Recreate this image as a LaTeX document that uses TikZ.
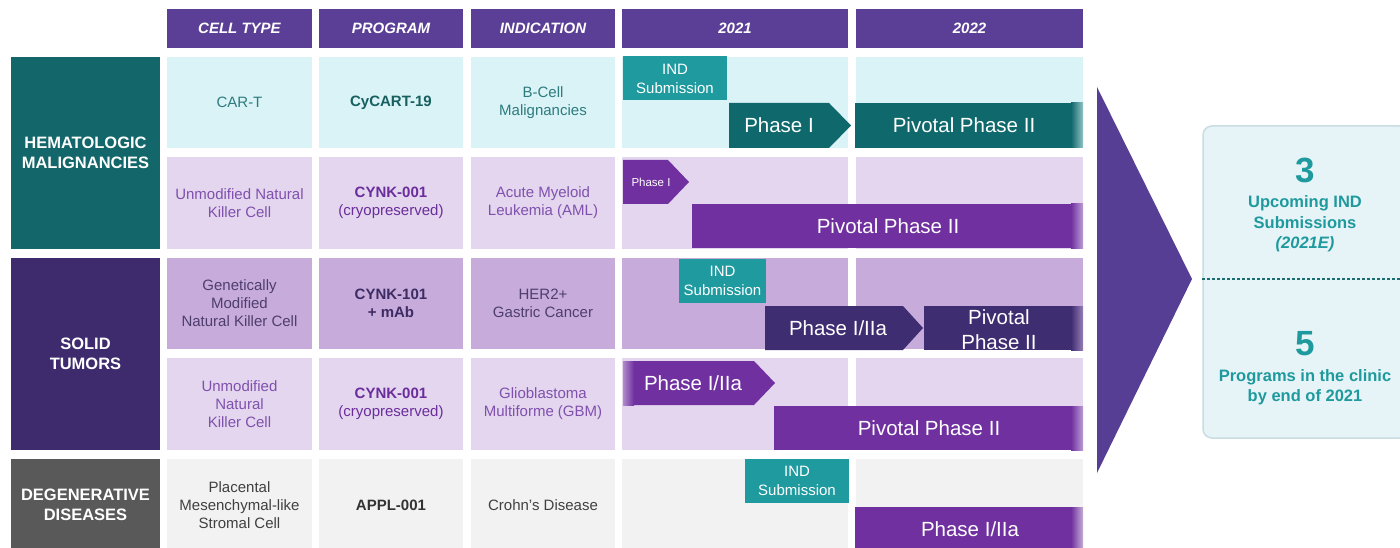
\documentclass[tikz,border=0pt]{standalone}
\usepackage{fontspec}
\setmainfont{Liberation Sans}
\usetikzlibrary{positioning}

\definecolor{hdr}{HTML}{5B3F97}
\definecolor{hemat}{HTML}{13666A}
\definecolor{solid}{HTML}{3D2B6D}
\definecolor{degen}{HTML}{595959}
\definecolor{rowA}{HTML}{D9F3F7}
\definecolor{rowB}{HTML}{E3D6EE}
\definecolor{rowC}{HTML}{C6ABDB}
\definecolor{rowE}{HTML}{F2F2F2}
\definecolor{txtA}{HTML}{2E7B7E}
\definecolor{prgA}{HTML}{17605F}
\definecolor{txtB}{HTML}{8050AE}
\definecolor{prgB}{HTML}{6A2D9B}
\definecolor{txtC}{HTML}{4E3E6E}
\definecolor{prgC}{HTML}{3D2C63}
\definecolor{txtE}{HTML}{404040}
\definecolor{prgE}{HTML}{333333}
\definecolor{ind}{HTML}{1F9BA0}
\definecolor{tealbar}{HTML}{0F686B}
\definecolor{purbar}{HTML}{7030A0}
\definecolor{darkbar}{HTML}{3F2D72}
\definecolor{arrowpur}{HTML}{573E95}
\definecolor{sumfill}{HTML}{E7F4F7}
\definecolor{sumline}{HTML}{C8DCE1}
\definecolor{sumtext}{HTML}{1E9A9E}
\definecolor{sumdash}{HTML}{1C6D70}

\tikzset{
  head/.style={fill=hdr, text=white, font=\bfseries\itshape\fontsize{15}{18}\selectfont,
    minimum height=39pt, inner sep=0pt, outer sep=0pt},
  cat/.style={text=white, font=\bfseries\fontsize{16.5}{20}\selectfont, align=center,
    minimum width=149pt, inner sep=0pt, outer sep=0pt},
  cellbox/.style={inner sep=0pt, outer sep=0pt},
  celltext/.style={align=center, font=\fontsize{15}{18}\selectfont, inner sep=0pt},
  indbox/.style={fill=ind, text=white, align=center, font=\fontsize{15}{19}\selectfont,
    inner sep=0pt, minimum height=44pt},
  bartext/.style={text=white, font=\fontsize{20.5}{25}\selectfont, align=center, inner sep=0pt},
  sumtxt/.style={text=sumtext, font=\bfseries\fontsize{16.5}{20.5}\selectfont, align=center, inner sep=0pt},
  bignum/.style={text=sumtext, font=\bfseries\fontsize{35}{38}\selectfont, inner sep=0pt}
}

\begin{document}
\begin{tikzpicture}[x=1pt,y=-1pt]
  \useasboundingbox (0,0) rectangle (1400,548);

  % Kopfzeile
  \foreach \xa/\xb/\nm/\txt in {167/312/hcell/CELL TYPE,319/463/hprog/PROGRAM,471/615/hind/INDICATION,622/848/hyA/2021,856/1083/hyB/2022}
  \node[head, minimum width={(\xb-\xa)*1pt}] (\nm) at ({(\xa+\xb)/2},28.5) {\txt};

  % Kategorien
  \node[cat, fill=hemat, minimum height=192pt] (hemat) at (85.5,153) {HEMATOLOGIC\\MALIGNANCIES};
  \node[cat, fill=solid, minimum height=192pt] (solid) at (85.5,354) {SOLID\\TUMORS};
  \node[cat, fill=degen, minimum height=92pt] (degen) at (85.5,505) {DEGENERATIVE\\DISEASES};

  % Zellen
  \foreach \ya/\yb/\r/\bg in {57/148/1/rowA,157/249/2/rowB,258/349/3/rowC,358/450/4/rowB,459/551/5/rowE}
  \foreach \xa/\xb/\c in {167/312/1,319/463/2,471/615/3,622/848/4,856/1083/5}
  \node[cellbox, fill=\bg, minimum width={(\xb-\xa)*1pt}, minimum height={(\yb-\ya)*1pt}] (c\r\c) at ({(\xa+\xb)/2},{(\ya+\yb)/2}) {};

  % Texte der Zellen
  \foreach \r/\fg/\pg/\ta/\tb/\tc in {
    1/txtA/prgA/{CAR-T}/{\textbf{CyCART-19}}/{B-Cell\\Malignancies},
    2/txtB/prgB/{Unmodified Natural\\Killer Cell}/{\textbf{CYNK-001}\\(cryopreserved)}/{Acute Myeloid\\Leukemia (AML)},
    3/txtC/prgC/{Genetically\\Modified\\Natural Killer Cell}/{\textbf{CYNK-101}\\\textbf{+ mAb}}/{HER2+\\Gastric Cancer},
    4/txtB/prgB/{Unmodified\\Natural\\Killer Cell}/{\textbf{CYNK-001}\\(cryopreserved)}/{Glioblastoma\\Multiforme (GBM)},
    5/txtE/prgE/{Placental\\Mesenchymal-like\\Stromal Cell}/{\textbf{APPL-001}}/{Crohn’s Disease}}
  {
    \node[celltext, text=\fg] (type\r) at (c\r1) {\ta};
    \node[celltext, text=\pg] (prog\r) at (c\r2) {\tb};
    \node[celltext, text=\fg] (indi\r) at (c\r3) {\tc};
  }

  % Pfeile (Phasen)
  \foreach \xa/\xr/\xt/\ya/\yb/\col in {729/829/851/103/148/tealbar,623/668/689/160/204/purbar,765/903/923/306/350/darkbar,623/754/775/361/405/purbar}
  \fill[\col] (\xa,\ya) -- (\xr,\ya) -- (\xt,{(\ya+\yb)/2}) -- (\xr,\yb) -- (\xa,\yb) -- cycle;
  \shade[left color=rowB!55!purbar, right color=purbar] (623,361) rectangle (634,405);

  % Balken mit Verlauf am Ende
  \foreach \xa/\ya/\yb/\col/\bg in {855/103/148/tealbar/rowA,692/204/248/purbar/rowB,924/306/350/darkbar/rowC,774/406/450/purbar/rowB,855/507/551/purbar/rowE}
  {
    \fill[\col] (\xa,\ya) rectangle (1071,\yb);
    \shade[left color=\col, right color=\bg!65!\col] (1071,\ya) rectangle (1083,\yb);
  }

  % IND
  \node[indbox, minimum width=104pt] (indA) at (675,78.5) {IND\\Submission};
  \node[indbox, minimum width=87pt] (indC) at (722.5,281) {IND\\Submission};
  \node[indbox, minimum width=104pt] (indE) at (797,481) {IND\\Submission};

  % Beschriftung der Balken
  \node[bartext] (phA) at (779,125.5) {Phase I};
  \node[bartext] (pivA) at (964,125.5) {Pivotal Phase II};
  \node[bartext, font=\fontsize{11.5}{13}\selectfont] (phB) at (651,182) {Phase I};
  \node[bartext] (pivB) at (888,226) {Pivotal Phase II};
  \node[bartext] (phC) at (838,328) {Phase I/IIa};
  \node[bartext] (pivC) at (999,329.5) {Pivotal\\Phase II};
  \node[bartext] (phD) at (693,383.5) {Phase I/IIa};
  \node[bartext] (pivD) at (929,428) {Pivotal Phase II};
  \node[bartext] (phE) at (970,529) {Phase I/IIa};

  % grosser Pfeil
  \coordinate (tip) at (1192,279);
  \fill[arrowpur] (1097,87) -- (tip) -- (1097,473) -- cycle;

  % Zusammenfassung
  \node[draw=sumline, fill=sumfill, line width=1.5pt, rounded corners=9pt,
    minimum width=205pt, minimum height=312pt] (sumbox) at (1305.5,282) {};
  \draw[sumdash, line width=1.1pt, dash pattern=on 3pt off 2pt] (sumbox.west |- tip) -- (sumbox.east |- tip);
  \node[bignum] (nIND) at (1305,170) {3};
  \node[sumtxt] (tIND) at (1305,224) {Upcoming IND\\Submissions\\\textit{(2021E)}};
  \node[bignum] (nClin) at (1305,344) {5};
  \node[sumtxt] (tClin) at (1305,387) {Programs in the clinic\\by end of 2021};
\end{tikzpicture}
\end{document}
